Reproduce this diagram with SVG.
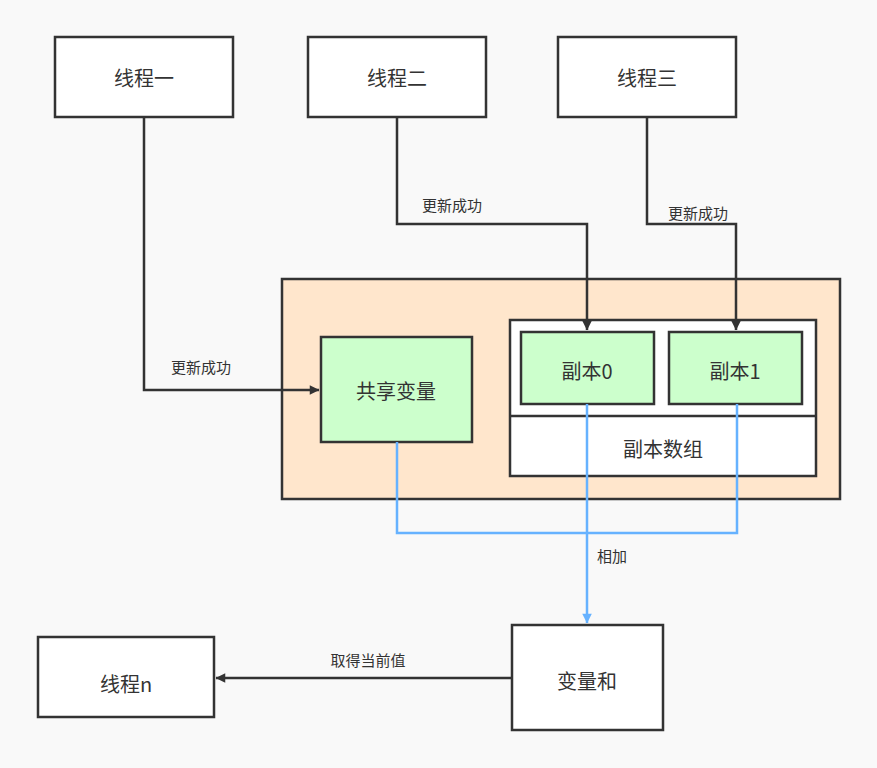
<svg xmlns="http://www.w3.org/2000/svg" width="877" height="768" viewBox="0 0 877 768">
<defs>
<style>
.n{stroke:#333;stroke-width:2.5}
.t{font-family:"Noto Sans CJK SC","Noto Sans",sans-serif;font-size:20px;fill:#333;text-anchor:middle;dominant-baseline:central}
.l{font-family:"Noto Sans CJK SC","Noto Sans",sans-serif;font-size:15px;fill:#333;text-anchor:middle;dominant-baseline:central}
.c{fill:none;stroke:#333;stroke-width:2.5}
.b{fill:none;stroke:#66b2ff;stroke-width:2.5}
</style>
<marker id="a" viewBox="0 0 10 10" refX="9" refY="5" markerWidth="6" markerHeight="6" orient="auto" markerUnits="userSpaceOnUse" style="overflow:visible"><path d="M0,0L10,5L0,10Z" fill="#333" transform="scale(1.6) translate(-4,-1.9)"/></marker>
<marker id="ab" viewBox="0 0 10 10" refX="9" refY="5" markerWidth="6" markerHeight="6" orient="auto" markerUnits="userSpaceOnUse" style="overflow:visible"><path d="M0,0L10,5L0,10Z" fill="#66b2ff" transform="scale(1.6) translate(-4,-1.9)"/></marker>
</defs>
<rect width="877" height="768" fill="#f9f9f9"/>
<g id="container"><rect x="282" y="279" width="558" height="220" fill="#ffe6cc" class="n"/></g>
<g id="t1"><rect x="55" y="37" width="178" height="80" fill="#fff" class="n"/><text x="144" y="77" class="t">线程一</text></g>
<g id="t2"><rect x="308" y="37" width="178" height="80" fill="#fff" class="n"/><text x="397" y="77" class="t">线程二</text></g>
<g id="t3"><rect x="558" y="37" width="178" height="80" fill="#fff" class="n"/><text x="647" y="77" class="t">线程三</text></g>
<g id="arr"><rect x="510" y="320" width="306" height="156" fill="#fff" class="n"/><line x1="510" y1="416" x2="816" y2="416" class="n"/><text x="663" y="448" class="t">副本数组</text></g>
<g id="shared"><rect x="321" y="337" width="151" height="105" fill="#ccffcc" class="n"/><text x="396" y="390" class="t">共享变量</text></g>
<g id="c0"><rect x="521" y="332" width="133" height="72" fill="#ccffcc" class="n"/><text x="587" y="370" class="t">副本0</text></g>
<g id="c1"><rect x="669" y="332" width="133" height="72" fill="#ccffcc" class="n"/><text x="735" y="370" class="t">副本1</text></g>
<g id="sum"><rect x="512" y="625" width="151" height="105" fill="#fff" class="n"/><text x="587" y="680" class="t">变量和</text></g>
<g id="tn"><rect x="38" y="637" width="176" height="80" fill="#fff" class="n"/><text x="126" y="683" class="t">线程n</text></g>
<g id="connectors">
<path d="M144,117V390H319" class="c" marker-end="url(#a)"/>
<path d="M397,117V224H587V330" class="c" marker-end="url(#a)"/>
<path d="M647,117V224H736V330" class="c" marker-end="url(#a)"/>
<path d="M397,442V533H737V404" class="b"/>
<path d="M587,404V623" class="b" marker-end="url(#ab)"/>
<path d="M512,678H216" class="c" marker-end="url(#a)"/>
<text x="201" y="366" class="l">更新成功</text>
<text x="452" y="204" class="l">更新成功</text>
<text x="698" y="212" class="l">更新成功</text>
<text x="612" y="555" class="l">相加</text>
<text x="368" y="659" class="l">取得当前值</text>
</g>
</svg>
